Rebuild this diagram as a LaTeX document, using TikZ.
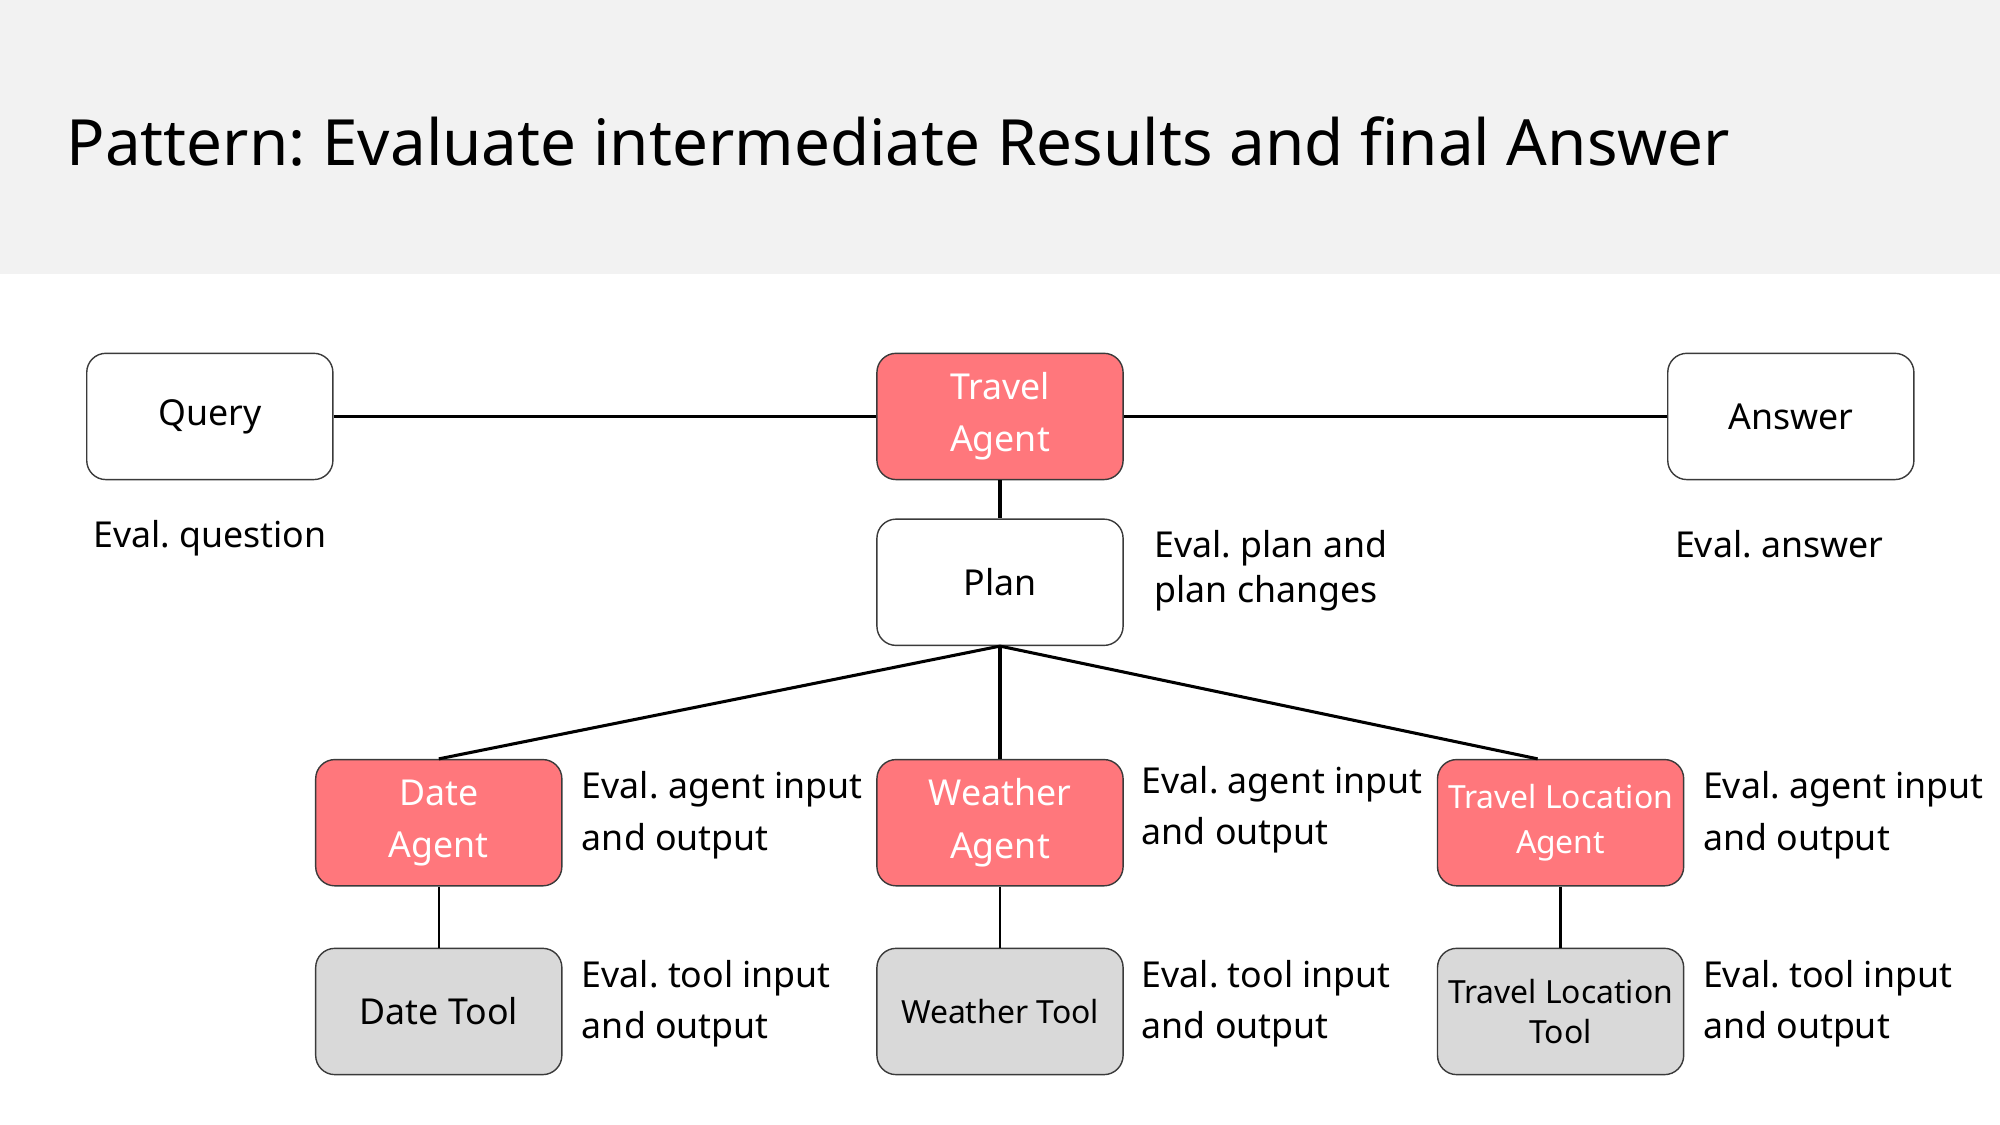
\documentclass[tikz,border=0pt]{standalone}
\usepackage{fontspec}
\setmainfont{Noto Sans}
\usetikzlibrary{positioning,calc}
\definecolor{hdr}{HTML}{F2F2F2}
\definecolor{pinkf}{HTML}{FF777C}
\definecolor{grayf}{HTML}{D9D9D9}
\definecolor{bord}{HTML}{3A3A3A}
\frenchspacing
\tikzset{
  box/.style={draw=bord, line width=1.1pt, rounded corners=15pt, minimum width=193pt, minimum height=99pt, inner sep=0pt, align=center, font=\fontsize{28}{41}\selectfont},
  whitebox/.style={box, fill=white},
  agentbox/.style={box, fill=pinkf, text=white},
  toolbox/.style={box, fill=grayf, text=black},
  lbl/.style={anchor=base west, inner sep=0pt, font=\fontsize{28}{34}\selectfont},
  conn/.style={line width=2.4pt, black}
}
\begin{document}
\begin{tikzpicture}[x=1pt,y=-1pt]
\useasboundingbox (0,0) rectangle (1568,882);
\fill[hdr] (0,0) rectangle (1568,215);
\node[anchor=base west, inner sep=0pt, font=\fontsize{50}{60}\selectfont] (title) at (52,130) {Pattern: Evaluate intermediate Results and final Answer};

\node[whitebox] (query) at (164.5,326.5) {Query};
\node[agentbox] (travel) at (784,326.5) {Travel\\Agent};
\node[whitebox] (answer) at (1404,326.5) {Answer};
\node[whitebox] (plan) at (784,456.5) {Plan};

\node[agentbox] (date) at (344,645) {Date\\Agent};
\node[agentbox] (weather) at (784,645) {Weather\\Agent};
\node[agentbox, font=\fontsize{25}{36}\selectfont] (tloc) at (1223.5,645) {Travel Location\\Agent};

\node[toolbox] (datetool) at (344,793) {Date Tool};
\node[toolbox, font=\fontsize{25}{32}\selectfont] (weathertool) at (784,793) {Weather Tool};
\node[toolbox, font=\fontsize{25}{32}\selectfont] (tloctool) at (1223.5,793) {Travel Location\\Tool};

\coordinate (tlocin) at ($(tloc.north)+(-18,0)$);

\draw[conn] (query.east) -- (travel.west);
\draw[conn] (travel.east) -- (answer.west);
\draw[conn] (travel.south) -- (plan.north);
\draw[conn] (plan.south) -- (date.north);
\draw[conn] (plan.south) -- (weather.north);
\draw[conn] (plan.south) -- (tlocin);
\draw[conn, line width=2pt] (date.south) -- (datetool.north);
\draw[conn, line width=2pt] (weather.south) -- (weathertool.north);
\draw[conn, line width=2pt] (tloc.south) -- (tloctool.north);

\node[lbl] (lq) at (73,429) {Eval. question};
\node[lbl] (lp1) at (905,437) {Eval. plan and};
\node[lbl] (lp2) at (905,472) {plan changes};
\node[lbl] (la) at (1313,437) {Eval. answer};

\node[lbl] (ld1) at (456,626) {Eval. agent input};
\node[lbl] (ld2) at (456,667) {and output};
\node[lbl] (lw1) at (895,622) {Eval. agent input};
\node[lbl] (lw2) at (895,662) {and output};
\node[lbl] (lt1) at (1335,626) {Eval. agent input};
\node[lbl] (lt2) at (1335,667) {and output};

\node[lbl] (tdt1) at (456,774) {Eval. tool input};
\node[lbl] (tdt2) at (456,814) {and output};
\node[lbl] (twt1) at (895,774) {Eval. tool input};
\node[lbl] (twt2) at (895,814) {and output};
\node[lbl] (ttt1) at (1335,774) {Eval. tool input};
\node[lbl] (ttt2) at (1335,814) {and output};
\end{tikzpicture}
\end{document}
